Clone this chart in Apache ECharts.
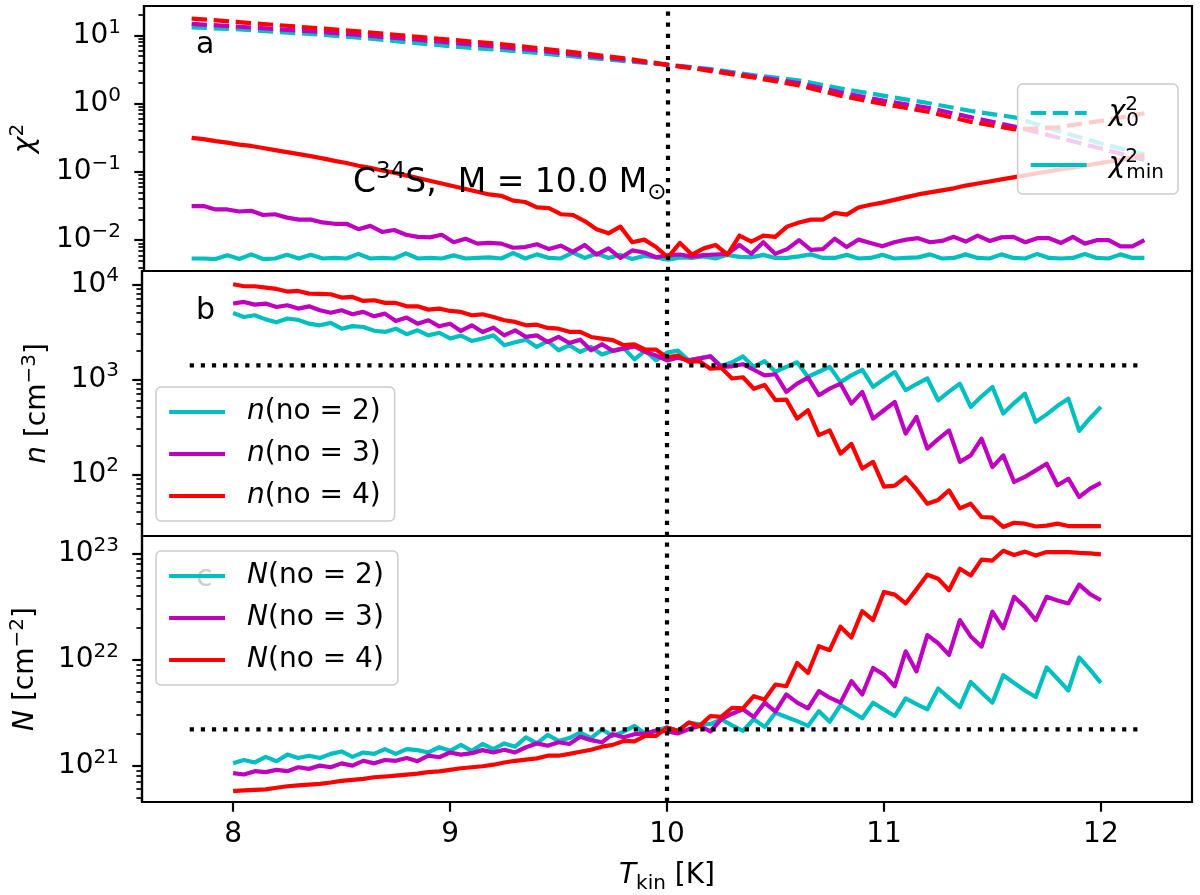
<!DOCTYPE html>
<html>
<head>
<meta charset="utf-8">
<script src="https://cdn.jsdelivr.net/npm/echarts@6/dist/echarts.min.js"></script>
<style>
html,body{margin:0;padding:0;background:#fff;}
#chart{width:1200px;height:895px;}
</style>
</head>
<body>
<div id="chart"></div>
<script>
// ---------- DATA ----------
const tKin = [8.00,8.05,8.10,8.15,8.20,8.25,8.30,8.35,8.40,8.45,8.50,8.55,8.60,8.65,8.70,8.75,8.80,8.85,8.90,8.95,
  9.00,9.05,9.10,9.15,9.20,9.25,9.30,9.35,9.40,9.45,9.50,9.55,9.60,9.65,9.70,9.75,9.80,9.85,9.90,9.95,
  10.00,10.05,10.10,10.15,10.20,10.25,10.30,10.35,10.40,10.45,10.50,10.55,10.60,10.65,10.70,10.75,10.80,10.85,10.90,10.95,
  11.00,11.05,11.10,11.15,11.20,11.25,11.30,11.35,11.40,11.45,11.50,11.55,11.60,11.65,11.70,11.75,11.80,11.85,11.90,11.95,12.00];

const tChi = [7.800,7.855,7.910,7.965,8.020,8.075,8.130,8.185,8.240,8.295,8.350,8.405,8.460,8.515,8.570,8.625,8.680,8.735,8.790,8.845,
  8.900,8.955,9.010,9.065,9.120,9.175,9.230,9.285,9.340,9.395,9.450,9.505,9.560,9.615,9.670,9.725,9.780,9.835,9.890,9.945,
  10.000,10.055,10.110,10.165,10.220,10.275,10.330,10.385,10.440,10.495,10.550,10.605,10.660,10.715,10.770,10.825,10.880,10.935,10.990,11.045,
  11.100,11.155,11.210,11.265,11.320,11.375,11.430,11.485,11.540,11.595,11.650,11.705,11.760,11.815,11.870,11.925,11.980,12.035,12.090,12.145,12.200];

const tChi0 = [7.8,8.0,8.2,8.4,8.6,8.8,9.0,9.2,9.4,9.6,9.8,10.0,10.2,10.4,10.6,10.8,11.0,11.2,11.4,11.6,11.8,12.0,12.2];

const chi0Cyan    = [13.1,12.3,11.2,10.2,9.1,7.9,6.9,6.2,5.5,4.8,4.2,3.7,3.2,2.6,2.2,1.66,1.30,1.02,0.78,0.63,0.40,0.26,0.18];
const chi0Magenta = [14.7,13.5,12.3,11.2,10.0,8.9,7.8,6.9,6.0,5.1,4.4,3.7,3.1,2.5,2.0,1.45,1.10,0.87,0.63,0.46,0.32,0.22,0.15];
const chi0Red     = [17.6,15.8,14.1,12.6,11.2,9.8,8.6,7.6,6.5,5.5,4.6,3.7,3.0,2.4,1.86,1.30,0.98,0.76,0.54,0.42,0.45,0.56,0.72];

const chiMinCyan = [0.0054,0.0054,0.0053,0.0060,0.0053,0.0062,0.0053,0.0054,0.0061,0.0054,
  0.0061,0.0054,0.0055,0.0054,0.0063,0.0054,0.0055,0.0054,0.0064,0.0054,
  0.0055,0.0054,0.0060,0.0054,0.0055,0.0056,0.0054,0.0065,0.0054,0.0062,
  0.0055,0.0054,0.0066,0.0055,0.0064,0.0055,0.0061,0.0053,0.0059,0.0056,
  0.0052,0.0056,0.0055,0.0058,0.0054,0.0061,0.0057,0.0056,0.0061,0.0055,
  0.0055,0.0058,0.0062,0.0055,0.0055,0.0061,0.0054,0.0055,0.0061,0.0054,
  0.0055,0.0056,0.0062,0.0054,0.0055,0.0062,0.0055,0.0054,0.0062,0.0055,
  0.0054,0.0063,0.0055,0.0054,0.0055,0.0063,0.0055,0.0054,0.0062,0.0055,0.0055];
const chiMinMagenta = [0.0316,0.0316,0.0282,0.0282,0.0263,0.0269,0.0234,0.0240,0.0214,0.0200,
  0.0200,0.0182,0.0174,0.0174,0.0145,0.0162,0.0132,0.0141,0.0120,0.0112,
  0.0110,0.0120,0.00933,0.0105,0.00891,0.00912,0.00891,0.00776,0.00794,0.00871,
  0.00741,0.00832,0.00676,0.00851,0.00617,0.00759,0.00550,0.00708,0.00661,0.00562,
  0.00603,0.00617,0.00575,0.00603,0.00617,0.00631,0.00851,0.00631,0.00933,0.00631,
  0.00741,0.0100,0.00724,0.00741,0.0105,0.00794,0.0102,0.00912,0.00813,0.00933,
  0.0102,0.0107,0.00933,0.00977,0.0112,0.00955,0.0117,0.00977,0.0110,0.0112,
  0.00933,0.0107,0.0107,0.00912,0.0112,0.00891,0.0100,0.0100,0.00813,0.00813,0.0100];
const chiMinRed = [0.316,0.302,0.282,0.269,0.251,0.240,0.224,0.209,0.195,0.182,
  0.170,0.158,0.145,0.135,0.123,0.115,0.105,0.0977,0.0891,0.0813,
  0.0741,0.0676,0.0617,0.0562,0.0513,0.0468,0.0447,0.0380,0.0363,0.0302,
  0.0295,0.0240,0.0234,0.0191,0.0145,0.0126,0.0158,0.00933,0.0102,0.00794,
  0.00562,0.00912,0.00617,0.00759,0.00851,0.00617,0.0117,0.00955,0.0117,0.0112,
  0.0158,0.0182,0.0200,0.0200,0.0251,0.0237,0.0302,0.0331,0.0355,0.0389,
  0.0427,0.0468,0.0501,0.0537,0.0575,0.0631,0.0676,0.0724,0.0776,0.0832,
  0.0891,0.0955,0.102,0.110,0.115,0.123,0.132,0.141,0.151,0.162,0.174];

const nCyan = [4990,4530,4720,4270,3980,4360,4220,3850,3700,3920,
  3410,3630,3550,3240,3150,3410,2980,3280,2900,3090,
  2690,2880,2530,2690,2900,2280,2450,2610,2190,2530,
  2020,2280,1940,2190,1820,2000,2140,1620,2000,1580,
  1910,2000,1580,1660,1740,1380,1510,1740,1350,1550,
  1200,1350,1510,1060,1200,1350,933,1100,1260,832,
  1000,1190,766,891,1020,601,741,899,512,661,
  830,436,562,706,356,427,525,625,286,389,512];
const nMagenta = [6270,6520,6110,6270,5770,6010,5550,5860,5320,5010,
  5320,4830,5120,4600,4910,4110,4460,3850,4180,3610,
  3850,3230,3700,3150,3500,2900,3280,2790,2900,2470,
  2790,2410,2610,2020,2340,1990,2100,2220,1940,1780,
  1580,1690,1580,1660,1750,1350,1370,1440,1260,1100,
  1130,736,899,1040,679,798,899,555,736,385,
  472,577,268,402,186,234,290,135,158,237,
  119,158,83.0,93.8,110,129,76.6,89.9,57.7,70.6,81.1];
const nRed = [10000,9530,9530,9230,8930,8380,8510,7980,7940,7850,
  7240,7360,6680,6790,6370,6370,5860,5860,5410,5550,
  5240,5120,4720,4830,4530,4180,4020,3700,3760,3470,
  3410,3160,3150,2790,2680,2580,2290,2330,2050,2050,
  1700,1780,1530,1550,1290,1320,1020,1050,794,871,
  603,611,385,472,258,290,165,209,115,135,
  74.1,75.9,93.3,69.2,49.0,53.7,67.6,43.7,49.0,35.5,
  35.0,27.9,30.9,30.2,28.2,28.8,30.2,28.5,28.4,28.4,28.5];

const colCyan = [1.05e21,1.13e21,1.07e21,1.21e21,1.10e21,1.27e21,1.18e21,1.24e21,1.18e21,1.29e21,
  1.36e21,1.21e21,1.33e21,1.29e21,1.43e21,1.29e21,1.43e21,1.40e21,1.33e21,1.49e21,
  1.38e21,1.57e21,1.38e21,1.60e21,1.43e21,1.62e21,1.51e21,1.85e21,1.62e21,1.95e21,
  1.71e21,1.82e21,2.05e21,1.82e21,2.19e21,1.91e21,2.09e21,2.37e21,2.00e21,2.14e21,
  2.29e21,2.13e21,2.55e21,2.46e21,2.46e21,2.74e21,2.40e21,2.13e21,2.74e21,2.32e21,
  3.16e21,2.88e21,2.63e21,2.37e21,3.27e21,2.60e21,3.73e21,3.24e21,2.80e21,3.93e21,
  3.39e21,2.94e21,4.31e21,3.80e21,3.40e21,5.35e21,4.37e21,3.57e21,6.17e21,4.90e21,
  3.93e21,7.13e21,6.03e21,5.13e21,4.44e21,8.47e21,6.61e21,5.12e21,1.05e22,8.05e21,6.04e21];
const colMagenta = [8.49e20,8.24e20,8.85e20,8.67e20,9.10e20,8.85e20,9.64e20,9.31e20,1.00e21,9.64e20,
  1.05e21,1.00e21,1.11e21,1.05e21,1.13e21,1.11e21,1.18e21,1.10e21,1.24e21,1.20e21,
  1.33e21,1.27e21,1.31e21,1.40e21,1.33e21,1.41e21,1.33e21,1.49e21,1.62e21,1.54e21,
  1.66e21,1.60e21,1.87e21,1.74e21,1.66e21,1.98e21,1.85e21,1.98e21,2.01e21,2.14e21,
  2.10e21,2.01e21,2.21e21,2.37e21,2.10e21,2.74e21,3.09e21,3.40e21,2.88e21,3.93e21,
  3.23e21,4.70e21,3.93e21,3.47e21,5.05e21,4.38e21,3.93e21,6.27e21,4.70e21,8.36e21,
  7.23e21,5.62e21,1.20e22,7.76e21,1.71e22,1.43e22,1.11e22,2.37e22,1.66e22,1.33e22,
  2.84e22,1.98e22,3.93e22,3.16e22,2.37e22,3.93e22,3.63e22,3.40e22,5.12e22,4.17e22,3.65e22];
const colRed = [5.75e20,5.83e20,5.89e20,5.96e20,6.17e20,6.38e20,6.50e20,6.61e20,6.73e20,6.92e20,
  7.16e20,7.33e20,7.50e20,7.76e20,7.89e20,8.04e20,8.22e20,8.41e20,8.67e20,8.81e20,
  9.12e20,9.44e20,9.64e20,9.86e20,1.02e21,1.07e21,1.11e21,1.14e21,1.17e21,1.24e21,
  1.24e21,1.29e21,1.35e21,1.41e21,1.51e21,1.57e21,1.71e21,1.69e21,1.91e21,1.91e21,
  2.29e21,2.13e21,2.55e21,2.37e21,2.94e21,2.88e21,3.52e21,3.47e21,4.53e21,4.22e21,
  5.83e21,5.62e21,9.31e21,7.50e21,1.34e22,1.23e22,2.05e22,1.62e22,2.88e22,2.37e22,
  4.37e22,4.12e22,3.40e22,4.62e22,6.35e22,5.82e22,4.53e22,7.23e22,6.25e22,8.83e22,
  8.65e22,1.07e23,9.77e22,1.05e23,9.64e22,1.04e23,1.04e23,1.04e23,1.02e23,1.01e23,9.91e22];

const tRef = 10;
const refSpan = [7.8, 12.2];
const nRef = 1400;
const colRef = 2.2e21;

const xTicks = [8, 9, 10, 11, 12];
const chiTicks = [0.01, 0.1, 1, 10];
const chiMinor = [0.004,0.005,0.006,0.007,0.008,0.009,0.02,0.03,0.04,0.05,0.06,0.07,0.08,0.09,
  0.2,0.3,0.4,0.5,0.6,0.7,0.8,0.9,2,3,4,5,6,7,8,9,20];
const nTicks = [100, 1000, 10000];
const nMinor = [30,40,50,60,70,80,90,200,300,400,500,600,700,800,900,2000,3000,4000,5000,6000,7000,8000,9000];
const colTicks = [1e21, 1e22, 1e23];
const colMinor = [5e20,6e20,7e20,8e20,9e20,2e21,3e21,4e21,5e21,6e21,7e21,8e21,9e21,
  2e22,3e22,4e22,5e22,6e22,7e22,8e22,9e22];

// ---------- STYLE ----------
const FONT = 'DejaVu Sans';
const CY = '#00bfbf', MG = '#bf00bf', RD = '#ff0000';
const LW = 4.2;
const DASH = [15.4, 6.7];
const DOT = [4.2, 6.9];
const X_MIN = 7.58, X_MAX = 12.42;
const RANGES = [[0.00354, 26.9], [22.4, 13800], [4.53e20, 1.475e23]];

const tickRich = {
  b: {fontFamily: FONT, fontSize: 28, lineHeight: 36, color: '#000'},
  s: {fontFamily: FONT, fontSize: 20, lineHeight: 20, verticalAlign: 'top', color: '#000'}
};
function makeRich(lh) {
  return {
    i: {fontFamily: FONT, fontSize: 28, fontStyle: 'italic', lineHeight: lh, color: '#000'},
    r: {fontFamily: FONT, fontSize: 28, lineHeight: lh, color: '#000'},
    sp: {fontFamily: FONT, fontSize: 20, lineHeight: 20, verticalAlign: 'top', color: '#000'},
    spz: {fontFamily: FONT, fontSize: 20, lineHeight: 20, verticalAlign: 'top', color: '#000', width: 1},
    sb: {fontFamily: FONT, fontSize: 20, lineHeight: 20, verticalAlign: 'bottom', color: '#000'}
  };
}
const textRich = makeRich(36);

function pairs(xs, ys) { return xs.map((x, i) => [x, ys[i]]); }
function pow10Label(v) {
  const e = Math.round(Math.log10(v));
  return '{b|10}{s|' + String(e).replace('-', '\u2212') + '}';
}
function lineSeries(name, gi, xs, ys, color, dashed) {
  return {
    type: 'line', name: name, xAxisIndex: gi, yAxisIndex: gi * 2,
    data: pairs(xs, ys), showSymbol: false, symbol: 'none',
    lineStyle: {color: color, width: LW, type: dashed ? DASH : 'solid', cap: 'butt', join: 'round'},
    itemStyle: {color: color}, z: 2, animation: false, emphasis: {disabled: true}
  };
}
function refLine(gi, xs, ys) {
  return {
    type: 'line', xAxisIndex: gi, yAxisIndex: gi * 2, data: xs.length ? pairs(xs, ys) : [],
    showSymbol: false, symbol: 'none', z: 5, animation: false, silent: true,
    lineStyle: {color: '#000', width: LW, type: DOT, cap: 'butt'},
    markLine: {
      silent: true, symbol: ['none', 'none'], label: {show: false}, animation: false,
      lineStyle: {color: '#000', width: LW, type: DOT, cap: 'butt'},
      data: [{xAxis: tRef}]
    }
  };
}
function yAxes(gi, ticks, minors, name, gap) {
  const r = RANGES[gi];
  return [{
    type: 'log', gridIndex: gi, min: r[0], max: r[1], position: 'left',
    axisLine: {show: true, lineStyle: {color: '#000', width: 2.2}},
    axisTick: {show: true, length: 9.7, lineStyle: {color: '#000', width: 2.2}, customValues: ticks},
    axisLabel: {show: true, customValues: ticks, formatter: pow10Label, margin: 23, rich: tickRich},
    splitLine: {show: false}, minorTick: {show: false},
    name: name, nameLocation: 'middle', nameRotate: 90, nameGap: gap,
    nameTextStyle: {rich: textRich, color: '#000'}
  }, {
    type: 'log', gridIndex: gi, min: r[0], max: r[1], position: 'left',
    axisLine: {show: false},
    axisTick: {show: true, length: 5.6, lineStyle: {color: '#000', width: 1.7}, customValues: minors},
    axisLabel: {show: false}, splitLine: {show: false}
  }];
}

const legendLabels = {
  chi0: '{i|χ}{spz|2}{sb|0}',
  chimin: '{i|χ}{spz|2}{sb|min}',
  n2: '{i|n}{r|(no = 2)}', n3: '{i|n}{r|(no = 3)}', n4: '{i|n}{r|(no = 4)}',
  N2: '{i|N}{r|(no = 2)}', N3: '{i|N}{r|(no = 3)}', N4: '{i|N}{r|(no = 4)}'
};
function legendBox(pos, names, lh, gap) {
  return Object.assign({
    orient: 'vertical', data: names, selectedMode: false,
    itemWidth: 56, itemHeight: 14, itemGap: gap,
    padding: [11, 14, 11, 11],
    backgroundColor: 'rgba(255,255,255,0.8)', borderColor: '#cccccc', borderWidth: 1.5, borderRadius: 5,
    formatter: n => legendLabels[n],
    itemStyle: {opacity: 0, borderWidth: 0},
    lineStyle: {width: 'inherit', opacity: 1},
    textStyle: {fontFamily: FONT, fontSize: 28, lineHeight: lh, color: '#000', rich: makeRich(lh), padding: [0, 0, 0, 17]}
  }, pos);
}

const grids = [
  {left: 142, right: 8, top: 6, height: 265},
  {left: 142, right: 8, top: 271, height: 265},
  {left: 142, right: 8, top: 536, height: 268}
].map(g => Object.assign({show: true, borderColor: '#000', borderWidth: 2.2, backgroundColor: 'transparent'}, g));

const xAxes = [0, 1, 2].map(gi => ({
  type: 'value', gridIndex: gi, min: X_MIN, max: X_MAX,
  show: gi === 2,
  axisLine: {show: true, lineStyle: {color: '#000', width: 2.2}},
  axisTick: {show: gi === 2, length: 9.7, lineStyle: {color: '#000', width: 2.2}, customValues: xTicks},
  axisLabel: {show: gi === 2, customValues: xTicks, fontFamily: FONT, fontSize: 28, color: '#000', margin: 19},
  splitLine: {show: false},
  name: gi === 2 ? '{i|T}{sb|kin}{r| [K]}' : '', nameLocation: 'middle', nameGap: 56,
  nameTextStyle: {rich: textRich, color: '#000'}
}));

const option = {
  animation: false,
  backgroundColor: '#fff',
  grid: grids,
  xAxis: xAxes,
  yAxis: [].concat(
    yAxes(0, chiTicks, chiMinor, '{i|χ}{sp|2}', 100),
    yAxes(1, nTicks, nMinor, '{i|n}{r| [cm}{sp|\u22123}{r|]}', 86),
    yAxes(2, colTicks, colMinor, '{i|N}{r| [cm}{sp|\u22122}{r|]}', 98)
  ),
  legend: [
    legendBox({right: 22, top: 84}, ['chi0', 'chimin'], 36, 16),
    legendBox({left: 156, top: 387}, ['n2', 'n3', 'n4'], 28, 14),
    legendBox({left: 156, top: 551}, ['N2', 'N3', 'N4'], 28, 14)
  ],
  graphic: [
    {type: 'text', x: 196, y: 45, z: 10, style: {text: 'a', fontFamily: FONT, fontSize: 30, fill: '#000', verticalAlign: 'middle'}},
    {type: 'text', x: 196, y: 311, z: 10, style: {text: 'b', fontFamily: FONT, fontSize: 30, fill: '#000', verticalAlign: 'middle'}},
    {type: 'text', x: 196, y: 578, z: 3, style: {text: 'c', fontFamily: FONT, fontSize: 30, fill: '#000', verticalAlign: 'middle'}},
    {type: 'text', x: 353, y: 183, z: 10, style: {
      text: '{t|C}{p|34}{t|S,  M = 10.0 M}{q|\u2299}', verticalAlign: 'middle', fill: '#000',
      rich: {
        t: {fontFamily: FONT, fontSize: 33, lineHeight: 44, fill: '#000'},
        p: {fontFamily: FONT, fontSize: 23, lineHeight: 23, verticalAlign: 'top', fill: '#000'},
        q: {fontFamily: FONT, fontSize: 23, lineHeight: 23, verticalAlign: 'bottom', fill: '#000'}
      }
    }}
  ],
  series: [
    lineSeries('chi0', 0, tChi0, chi0Cyan, CY, true),
    lineSeries('chi0m', 0, tChi0, chi0Magenta, MG, true),
    lineSeries('chi0r', 0, tChi0, chi0Red, RD, true),
    lineSeries('chimin', 0, tChi, chiMinCyan, CY, false),
    lineSeries('chiminm', 0, tChi, chiMinMagenta, MG, false),
    lineSeries('chiminr', 0, tChi, chiMinRed, RD, false),
    refLine(0, [], []),
    lineSeries('n2', 1, tKin, nCyan, CY, false),
    lineSeries('n3', 1, tKin, nMagenta, MG, false),
    lineSeries('n4', 1, tKin, nRed, RD, false),
    refLine(1, refSpan, [nRef, nRef]),
    lineSeries('N2', 2, tKin, colCyan, CY, false),
    lineSeries('N3', 2, tKin, colMagenta, MG, false),
    lineSeries('N4', 2, tKin, colRed, RD, false),
    refLine(2, refSpan, [colRef, colRef])
  ]
};

const chart = echarts.init(document.getElementById('chart'), null, {renderer: 'canvas'});
chart.setOption(option);
</script>
</body>
</html>
